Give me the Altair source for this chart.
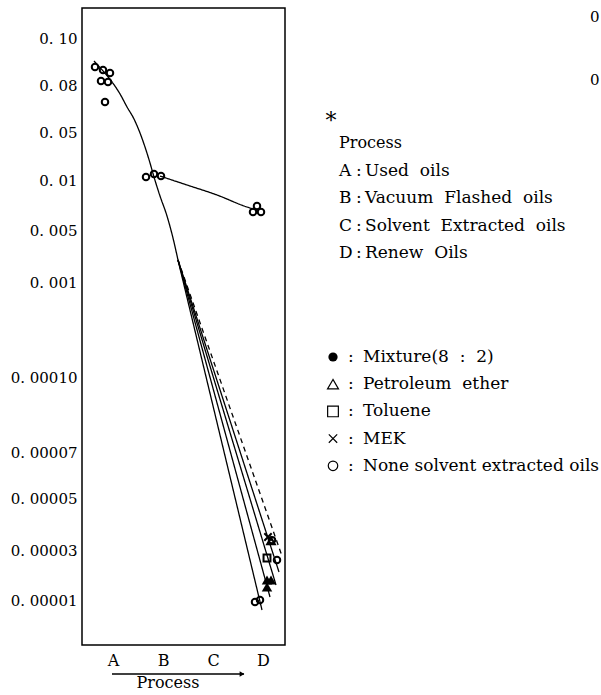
import altair as alt
import pandas as pd

# ---------------- data ----------------
process_codes = ["A", "B", "C", "D"]
process_pos = [1, 2, 3, 4]

# y axis ticks (non-uniform scanned axis)
tick_values = [0.00001, 0.00003, 0.00005, 0.00007, 0.0001, 0.001, 0.005, 0.01, 0.05, 0.08, 0.10]
tick_labels = ["0. 00001", "0. 00003", "0. 00005", "0. 00007", "0. 00010",
               "0. 001", "0. 005", "0. 01", "0. 05", "0. 08", "0. 10"]

# measured points
a_x = [0.64, 0.80, 0.94, 0.76, 0.90, 0.84]
a_y = [0.0877, 0.0864, 0.0851, 0.0817, 0.0813, 0.0691]
b_x = [1.66, 1.82, 1.96]
b_y = [0.0125, 0.0150, 0.0133]
dn_x = [3.80, 3.88, 3.96]
dn_y = [0.0068, 0.0074, 0.0068]
d_circle_x = [3.84, 3.94, 4.28, 4.18]
d_circle_y = [0.0000092, 0.0000100, 0.0000260, 0.0000338]
d_filled_tri_x = [4.08, 4.16, 4.08]
d_filled_tri_y = [0.0000180, 0.0000180, 0.0000152]
d_square_x = [4.08]
d_square_y = [0.0000268]
d_cross_x = [4.10]
d_cross_y = [0.0000350]
d_open_tri_x = [4.16]
d_open_tri_y = [0.0000335]

# curves
main_x = [0.62, 0.80, 0.98, 1.14, 1.28, 1.42, 1.54, 1.64, 1.74, 1.82, 1.94, 2.08, 2.20, 2.30]
main_y = [0.0902, 0.0860, 0.0813, 0.0743, 0.0660, 0.0583, 0.0492, 0.0375, 0.0242, 0.0125,
          0.0084, 0.0064, 0.00438, 0.00269]
nonrenew_x = [1.94, 2.48, 3.08, 3.68, 3.88]
nonrenew_y = [0.0133, 0.0095, 0.0085, 0.0073, 0.0070]
fan_start = (2.30, 0.00269)
fan_names = ["none", "mixture", "toluene", "pet_mek", "dashed"]
fan_end_x = [3.98, 4.14, 4.26, 4.32, 4.38]
fan_end_y = [0.0000060, 0.0000112, 0.0000160, 0.0000212, 0.0000276]

NB = "\u00a0"
process_title = "Process"
legend1_keys = ["A", "B", "C", "D"]
legend1_text = [f"Used{NB} oils", f"Vacuum{NB} Flashed{NB} oils",
                f"Solvent{NB} Extracted{NB} oils", f"Renew{NB} Oils"]
legend2_kinds = ["filled_circle", "triangle", "square", "cross", "circle"]
legend2_text = [f"Mixture(8{NB} :{NB} 2)", f"Petroleum{NB} ether", "Toluene",
                "MEK", "None solvent extracted oils"]

# ---------------- tables ----------------
rows = []
for i, (x, y) in enumerate(zip(main_x, main_y)):
    rows.append({"series": "main", "x": x, "y": y, "o": i, "dash": "solid"})
for i, (x, y) in enumerate(zip(nonrenew_x, nonrenew_y)):
    rows.append({"series": "nonrenew", "x": x, "y": y, "o": i, "dash": "solid"})
for n, ex, ey in zip(fan_names, fan_end_x, fan_end_y):
    d = "dashed" if n == "dashed" else "solid"
    rows.append({"series": n, "x": fan_start[0], "y": fan_start[1], "o": 0, "dash": d})
    rows.append({"series": n, "x": ex, "y": ey, "o": 1, "dash": d})
lines_df = pd.DataFrame(rows)

pts = []
def add(xs, ys, kind):
    for x, y in zip(xs, ys):
        pts.append({"x": x, "y": y, "kind": kind})
add(a_x, a_y, "circle")
add(b_x, b_y, "circle")
add(dn_x, dn_y, "circle")
add(d_circle_x, d_circle_y, "circle")
add(d_square_x, d_square_y, "square")
add(d_cross_x, d_cross_y, "cross")
add(d_open_tri_x, d_open_tri_y, "triangle")
open_df = pd.DataFrame(pts)
filled_df = pd.DataFrame({"x": d_filled_tri_x, "y": d_filled_tri_y})

# ---------------- layout ----------------
PL, PT, W, H = 82, 8, 203, 637
tick_pixels = [600, 550, 498, 452, 377, 282, 230, 180, 132, 85, 38]
y_range = [p - PT for p in tick_pixels]
FONT = "DejaVu Serif"
CROSS = "M-1,-1L1,1M-1,1L1,-1"

label_expr = ""
for v, lab in zip(tick_values, tick_labels):
    label_expr += f"abs(datum.value - {v}) < {v * 0.01} ? '{lab}' : "
label_expr += "''"
x_expr = "".join(f"datum.value == {p} ? '{c}' : " for p, c in zip(process_pos, process_codes)) + "''"

xs = alt.Scale(domain=[0.38, 4.44], nice=False, zero=False)
ys = alt.Scale(domain=tick_values, range=y_range, nice=False, zero=False)

X = alt.X("x:Q", scale=xs, axis=alt.Axis(values=process_pos, labelExpr=x_expr, title=None,
          grid=False, domain=False, ticks=False, labelFont=FONT, labelFontSize=16,
          labelColor="black", labelPadding=7))
Y = alt.Y("y:Q", scale=ys, axis=alt.Axis(values=tick_values, labelExpr=label_expr, title=None,
          grid=False, domain=False, ticks=False, labelFont=FONT, labelFontSize=15,
          labelColor="black", labelPadding=5))

lines = alt.Chart(lines_df).mark_line(color="black", strokeWidth=1.3, interpolate="monotone").encode(
    x=X, y=Y, detail="series:N", order="o:Q",
    strokeDash=alt.StrokeDash("dash:N", scale=alt.Scale(domain=["solid", "dashed"], range=[[1, 0], [5, 4]]), legend=None),
)

kinds = ["circle", "square", "cross", "triangle"]
open_pts = alt.Chart(open_df).mark_point(filled=False, color="black", strokeWidth=2, opacity=1).encode(
    x=X, y=Y,
    shape=alt.Shape("kind:N", scale=alt.Scale(domain=kinds,
                    range=["circle", "square", CROSS, "triangle-up"]), legend=None),
    size=alt.Size("kind:N", scale=alt.Scale(domain=kinds, range=[42, 60, 70, 70]), legend=None),
)
filled_pts = alt.Chart(filled_df).mark_point(filled=True, color="black", shape="triangle-up", size=110, opacity=1).encode(
    x=X, y=Y)

one = pd.DataFrame({"a": [0]})

def txt(s, x, y, size=17, align="left"):
    return alt.Chart(one).mark_text(font=FONT, fontSize=size, color="black", align=align, baseline="middle").encode(
        x=alt.value(x - PL), y=alt.value(y - PT), text=alt.value(s))

def sym(shape, x, y, filled, size):
    return alt.Chart(one).mark_point(shape=shape, filled=filled, color="black", size=size, opacity=1,
                                     strokeWidth=1.2).encode(x=alt.value(x - PL), y=alt.value(y - PT))

ann = [txt("*", 331, 121, size=22, align="center"), txt(process_title, 339, 143, size=16)]
for i, (k, s) in enumerate(zip(legend1_keys, legend1_text)):
    yy = 170.5 + i * 27.5
    ann += [txt(k, 339, yy), txt(":", 356, yy), txt(s, 365, yy)]
sym_shape = {"filled_circle": ("circle", True, 85), "triangle": ("triangle-up", False, 120),
             "square": ("square", False, 115), "cross": (CROSS, False, 70), "circle": ("circle", False, 90)}
for i, (k, s) in enumerate(zip(legend2_kinds, legend2_text)):
    yy = 357 + i * 27.2
    shp, fl, sz = sym_shape[k]
    ann += [sym(shp, 333, yy, fl, sz), txt(":", 348, yy), txt(s, 363, yy)]
ann.append(txt("Process", 168, 683, size=16, align="center"))
ann.append(txt("0", 590, 17, size=15))
ann.append(txt("0", 590, 80, size=15))

arrow = alt.Chart(one).mark_rule(color="black", strokeWidth=1.3).encode(
    x=alt.value(112 - PL), x2=alt.value(244 - PL), y=alt.value(674 - PT))
head = alt.Chart(one).mark_point(shape="triangle-right", filled=True, color="black", size=30, opacity=1).encode(
    x=alt.value(242 - PL), y=alt.value(674 - PT))

chart = alt.layer(lines, open_pts, filled_pts, arrow, head, *ann).properties(
    width=W, height=H,
    background="white",
    autosize=alt.AutoSizeParams(type="none"),
    padding={"left": PL, "top": PT, "right": 601 - PL - W, "bottom": 695 - PT - H},
).configure_view(stroke="black", strokeWidth=1.5)

chart.save("out.html", embed_options={"renderer": "svg", "actions": False})
